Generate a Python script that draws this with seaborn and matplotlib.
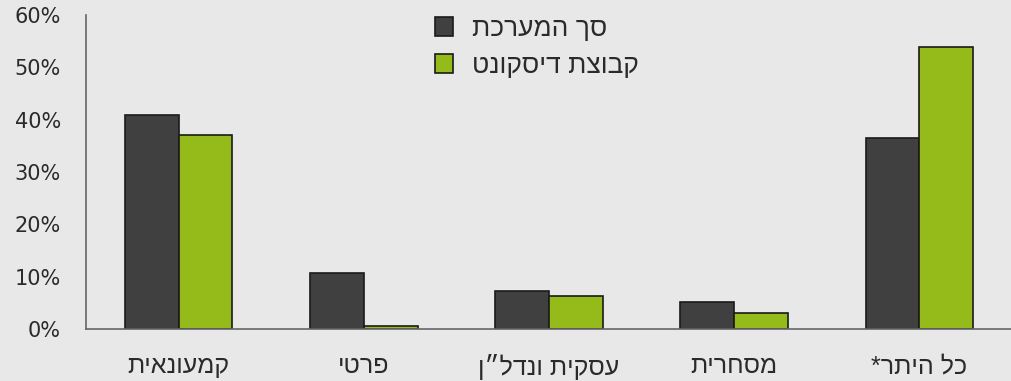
import matplotlib
matplotlib.use("Agg")
import matplotlib.pyplot as plt  # Used for creating graphs
import seaborn as sns  # Makes graphs look nicer
import pandas as pd

# Data (percent)
categories = ["קמעונאית", "פרטי", "עסקית ונדל״ן", "מסחרית", "כל היתר*"]
series_names = ["סך המערכת", "קבוצת דיסקונט"]
system_values = [40.9, 10.7, 7.2, 5.1, 36.5]
discount_values = [37.1, 0.5, 6.3, 3.1, 53.9]
y_ticks = [0, 10, 20, 30, 40, 50, 60]


def visual(text):
    # matplotlib has no bidi support, so flip Hebrew strings for display
    if text.endswith("*"):
        return "*" + text[:-1][::-1]
    return text[::-1]


rows = []
for cat, a, b in zip(categories, system_values, discount_values):
    rows.append({"cat": visual(cat), "series": visual(series_names[0]), "value": a})
    rows.append({"cat": visual(cat), "series": visual(series_names[1]), "value": b})
df = pd.DataFrame(rows)

sns.set_style("white")
plt.rcParams["font.family"] = ["DejaVu Sans"]
hebrew = ["Liberation Sans", "DejaVu Sans"]

bg = "#e8e8e8"
fig = plt.figure(figsize=(10.12, 3.81), dpi=100, facecolor=bg)
ax = fig.add_axes([86 / 1012, 52 / 381, 1 - 86 / 1012, (329 - 15) / 381])
ax.set_facecolor(bg)

sns.barplot(
    data=df, x="cat", y="value", hue="series",
    palette=["#404040", "#95bb1a"], saturation=1, width=0.58, gap=0,
    edgecolor="#1a1a1a", linewidth=1.2, ax=ax,
)

ax.set_ylim(0, 60)
ax.set_xlim(-0.5, (1012 - 86) / 187.5 - 0.5)
ax.set_yticks(y_ticks)
ax.set_yticklabels([f"{v}%" for v in y_ticks], fontsize=15)
ax.set_xticks(range(len(categories)))
ax.set_xticklabels(df["cat"].unique(), family=hebrew, fontsize=18)
ax.set_xticks([i - 0.5 for i in range(len(categories) + 1)], minor=True)
ax.tick_params(axis="x", which="major", length=0, pad=18, colors="#2a2a2a")
ax.tick_params(axis="x", which="minor", length=8, width=1, color="#555555", direction="out")
ax.tick_params(axis="y", length=10, width=1, color="#555555",
               labelcolor="#2a2a2a", pad=8)
ax.set_xlabel("")
ax.set_ylabel("")

for side in ["top", "right"]:
    ax.spines[side].set_visible(False)
for side in ["left", "bottom"]:
    ax.spines[side].set_color("#666666")
    ax.spines[side].set_linewidth(1.2)
ax.grid(False)

leg = ax.legend(
    loc="upper left", bbox_to_anchor=(0.351, 1.07), frameon=False,
    prop={"family": hebrew, "size": 19}, handlelength=0.7, handleheight=0.7,
    labelspacing=0.5, handletextpad=0.7, labelcolor="#2a2a2a",
)
for h in leg.legend_handles:
    h.set_edgecolor("#1a1a1a")
    h.set_linewidth(1.2)

fig.savefig("out.png", dpi=100, facecolor=bg)
